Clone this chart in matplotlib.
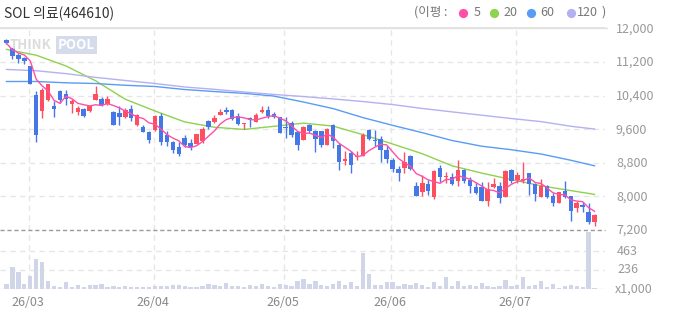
import matplotlib
matplotlib.use('Agg')
import matplotlib.pyplot as plt
import numpy as np
import pandas as pd

plt.rcParams['font.family'] = ['Noto Sans CJK KR', 'DejaVu Sans']

title = 'SOL 의료(464610)'
ma_legend = ['5', '20', '60', '120']

opens = [11720, 11522, 11362, 11300, 11092, 10407, 10025, 10304, 10161, 10519,
         10441, 10202, 10001, 10089, 10042, 10304, 10328, 10209, 10001, 9994,
         9882, 10089, 9691, 9643, 9524, 9588, 9906, 9469, 9301, 9165,
         9390, 9270, 9254, 9325, 9786, 9772, 9946, 10066, 10066, 9922,
         9731, 9867, 9762, 10011, 10066, 9963, 9891, 9652, 9748, 9524,
         9332, 9707, 9564, 9547, 9213, 9707, 9213, 8831, 9032, 8936,
         8967, 9588, 9349, 9366, 9110, 8872, 8657, 8673, 8967, 8251,
         8115, 8298, 7981, 8673, 8458, 8473, 8377, 8633, 8394, 8234,
         8220, 7893, 8234, 8251, 7995, 8616, 8394, 8377, 8554, 8298,
         7995, 8251, 8012, 7852, 8131, 8012, 7718, 7790, 7630, 7398]
highs = [11744, 11539, 11420, 11316, 11109, 10503, 10584, 10679, 10264, 10543,
         10543, 10328, 10144, 10106, 10185, 10622, 10359, 10383, 10025, 10161,
         10106, 10185, 9963, 9707, 9564, 9946, 9987, 9547, 9325, 9301,
         9469, 9366, 9492, 9660, 9827, 9946, 10089, 10121, 10089, 9987,
         9748, 9882, 9987, 10144, 10161, 10011, 9891, 9898, 9803, 9564,
         9667, 9724, 9588, 9564, 9629, 9731, 9270, 9087, 9070, 9070,
         9509, 9612, 9588, 9445, 9189, 8912, 8712, 9046, 8991, 8353,
         8513, 8394, 8633, 8752, 8592, 8568, 8855, 8650, 8473, 8353,
         8353, 8353, 8435, 8353, 8633, 8650, 8592, 8807, 8554, 8315,
         8411, 8275, 8076, 8115, 8370, 8012, 7900, 7876, 7852, 7575]
lows = [11618, 11267, 11164, 11157, 10663, 9294, 9867, 10281, 9882, 10226,
        10185, 9994, 9929, 9898, 10011, 10288, 10144, 10185, 9691, 9707,
        9867, 9786, 9667, 9533, 9270, 9564, 9230, 9189, 9032, 8950,
        9175, 9094, 9254, 9270, 9612, 9748, 9946, 9963, 9827, 9691,
        9612, 9643, 9762, 9987, 9867, 9867, 9500, 9397, 9404, 9094,
        9332, 9516, 9046, 9175, 9213, 9151, 8633, 8752, 8554, 8855,
        8967, 9349, 9189, 8807, 8793, 8592, 8377, 8568, 8633, 8019,
        8019, 8036, 7940, 8353, 8315, 8275, 8251, 8315, 8076, 8060,
        7893, 7780, 8196, 7838, 7995, 8315, 8315, 8315, 8036, 7900,
        7981, 7971, 7773, 7852, 7957, 7422, 7637, 7637, 7343, 7303]
closes = [11642, 11338, 11260, 11219, 10663, 9469, 10543, 10663, 10089, 10304,
          10312, 10264, 10106, 9922, 10161, 10448, 10185, 10328, 9691, 9882,
          10066, 9867, 9929, 9533, 9349, 9906, 9294, 9285, 9110, 9015,
          9230, 9175, 9492, 9612, 9643, 9867, 10011, 10001, 9851, 9731,
          9748, 9810, 9946, 10066, 9906, 9891, 9500, 9636, 9469, 9230,
          9652, 9547, 9373, 9213, 9612, 9309, 8807, 8895, 8735, 8967,
          9469, 9366, 9309, 9094, 8888, 8657, 8554, 8817, 8657, 8019,
          8330, 8138, 8609, 8458, 8490, 8298, 8633, 8377, 8258, 8076,
          7893, 8179, 8298, 7971, 8609, 8377, 8513, 8418, 8291, 8053,
          8251, 7995, 7838, 8100, 7995, 7661, 7852, 7756, 7398, 7558]
volumes = [61, 268, 211, 61, 158, 365, 329, 97, 41, 28,
           85, 24, 49, 24, 49, 49, 61, 24, 37, 24,
           37, 24, 24, 24, 24, 37, 37, 37, 49, 49,
           37, 24, 24, 37, 61, 49, 37, 73, 37, 37,
           24, 49, 37, 61, 37, 24, 61, 49, 37, 97,
           126, 61, 97, 49, 37, 61, 97, 49, 81, 37,
           438, 183, 49, 49, 89, 81, 37, 61, 49, 69,
           49, 24, 81, 37, 146, 37, 97, 37, 49, 37,
           69, 37, 24, 37, 110, 37, 49, 146, 37, 49,
           97, 24, 61, 12, 37, 49, 37, 24, 700, 16]

ma_idx = [0, 5, 10, 15, 20, 25, 30, 35, 40, 45, 50, 55, 60, 65, 70, 75, 80, 85, 90, 95, 99]
ma20 = [11498, 11360, 11104, 10751, 10312, 10032, 9772, 9645, 9593, 9667, 9743,
        9672, 9469, 9247, 9015, 8728, 8554, 8401, 8251, 8138, 8048]
ma60 = [10734, 10734, 10703, 10686, 10644, 10615, 10543, 10495, 10452, 10388, 10245,
        10089, 9875, 9691, 9516, 9330, 9194, 9110, 9008, 8860, 8728]
ma120 = [11021, 10990, 10921, 10832, 10758, 10686, 10603, 10548, 10484, 10426, 10376,
         10319, 10257, 10185, 10092, 10011, 9932, 9853, 9779, 9669, 9602]

month_idx = [4, 25, 47, 65, 86]
month_labels = ['26/03', '26/04', '26/05', '26/06', '26/07']
price_ticks = [7200, 8000, 8800, 9600, 10400, 11200, 12000]
vol_ticks = [236, 463]

W, H = 673, 315
C_UP = '#fd4f60'
C_DN = '#4677e6'
C_MA5 = '#ff4fa8'
C_MA20 = '#8ed24e'
C_MA60 = '#5a9cf4'
C_MA120 = '#b3b1f0'
C_VOL = '#d0d5e8'
C_GRID = '#e6e6e6'

fig = plt.figure(figsize=(W / 100, H / 100), dpi=100)


def px(l, t, r, b):
    return [l / W, 1 - b / H, (r - l) / W, (b - t) / H]


x_lo, x_hi = -1.094, 100.76
n = len(closes)
idx = np.arange(n)

# price panel
ax = fig.add_axes(px(0, 28.3, 605, 230))
ax.set_xlim(x_lo, x_hi)
ax.set_ylim(7200, 12000)
for s in ax.spines.values():
    s.set_visible(False)
ax.set_xticks([])
ax.set_yticks([])
ax.patch.set_alpha(0)
for p in price_ticks[1:-1]:
    ax.axhline(p, color=C_GRID, lw=1, dashes=(4, 3), zorder=0)
ax.axhline(12000, color='#dddddd', lw=1.2, zorder=0, clip_on=False)
for m in month_idx:
    ax.axvline(m - 0.25, color=C_GRID, lw=1, dashes=(4, 3), zorder=0)

for i in range(n):
    o, h, l, c = opens[i], highs[i], lows[i], closes[i]
    col = C_UP if c >= o else C_DN
    ax.vlines(i, l, h, color=col, lw=1, zorder=3)
    bh = max(abs(c - o), 20)
    ax.bar(i, bh, bottom=min(o, c), width=0.75, color=col, lw=0, zorder=3)

ma5 = pd.Series(closes).rolling(5, min_periods=1).mean()
ax.plot(idx, ma5, color=C_MA5, lw=1, zorder=4)
ax.plot(ma_idx, ma20, color=C_MA20, lw=1, zorder=2)
ax.plot(ma_idx, ma60, color=C_MA60, lw=1, zorder=2)
ax.plot(ma_idx, ma120, color=C_MA120, lw=1, zorder=2)

# volume panel
axv = fig.add_axes(px(0, 231, 605, 289))
axv.set_xlim(x_lo, x_hi)
axv.set_ylim(0, 707)
for s in axv.spines.values():
    s.set_visible(False)
axv.set_xticks([])
axv.set_yticks([])
axv.patch.set_alpha(0)
for v in vol_ticks:
    axv.axhline(v, color=C_GRID, lw=1, dashes=(4, 3), zorder=0)
for m in month_idx:
    axv.axvline(m - 0.25, color=C_GRID, lw=1, dashes=(4, 3), zorder=0)
axv.bar(idx, volumes, width=0.72, color=C_VOL, lw=0, zorder=2)
axv.axhline(0, color='#e8e8e8', lw=1, zorder=1)

# 7,200 dashed line over everything
ax.axhline(7200, color='#9a9a9a', lw=1, dashes=(3, 2), zorder=5, clip_on=False)

# overlay for texts in pixel coords
ov = fig.add_axes([0, 0, 1, 1])
ov.set_xlim(0, W)
ov.set_ylim(H, 0)
ov.axis('off')
ov.patch.set_alpha(0)

ov.text(4, 12.5, title, fontsize=10, color='#333333', va='center', ha='left')
ov.plot([0, 607], [27.7, 27.7], color='#e2e2e2', lw=1)

# watermark
ov.text(10, 45, 'THINK', fontsize=9.5, fontweight='bold', color='#d9d9d9',
        va='center', ha='left', alpha=0.9)
ov.text(58, 45, 'POOL', fontsize=9.5, fontweight='bold', color='#ffffff',
        va='center', ha='left',
        bbox=dict(boxstyle='square,pad=0.12', fc='#d4dcec', ec='none'))

# legend
lg_col = '#777777'
ov.text(414, 12.5, '(이평 :', fontsize=9, color=lg_col, va='center', ha='left')
dots_x = [463.3, 494.3, 531, 571]
txt_x = [473.5, 503.5, 540.5, 577]
for dx, tx, lab, col in zip(dots_x, txt_x, ma_legend, [C_MA5, C_MA20, C_MA60, C_MA120]):
    ov.scatter([dx], [12.5], s=44, color=col, lw=0)
    ov.text(tx, 12.5, lab, fontsize=9, color=lg_col, va='center', ha='left')
ov.text(601.5, 12.5, ')', fontsize=9, color=lg_col, va='center', ha='left')

# right axis labels
ax_col = '#999999'
def price_to_y(p):
    return 230 - (p - 7200) * (230 - 28.3) / 4800
for p in price_ticks:
    ov.text(616, price_to_y(p) + 0.5, f'{p:,}', fontsize=9, color=ax_col, va='center', ha='left')
def vol_to_y(v):
    return 289 - v * (289 - 231) / 707
for v in vol_ticks:
    ov.text(617, vol_to_y(v), f'{v}', fontsize=9, color=ax_col, va='center', ha='left')
ov.text(615, 289.5, 'x1,000', fontsize=9, color=ax_col, va='center', ha='left')

# month labels
for m, lab in zip(month_idx, month_labels):
    xpx = (m - 0.25 - x_lo) / (x_hi - x_lo) * 605
    ov.text(xpx - 1, 303, lab, fontsize=9, color='#888888', va='center', ha='center')

fig.savefig('out.png', dpi=100)
